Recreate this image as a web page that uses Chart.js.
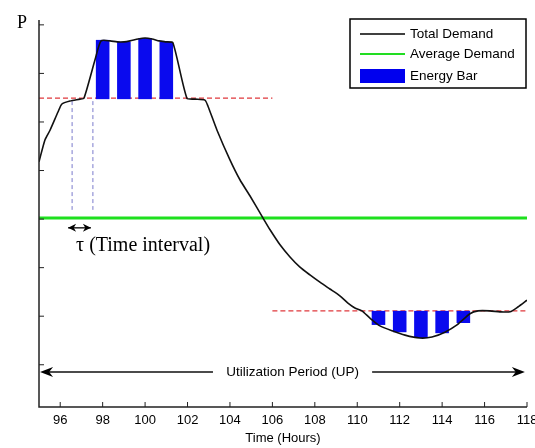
<!DOCTYPE html>
<html>
<head>
<meta charset="utf-8">
<script src="https://cdn.jsdelivr.net/npm/chart.js@4.4.0/dist/chart.umd.min.js"></script>
<style>
  html, body { margin: 0; padding: 0; background: #fff; }
</style>
</head>
<body>
<canvas id="chart" width="535" height="448"></canvas>
<script>
// total demand curve (hours, P)
const demandHours = [95, 95.28, 95.52, 95.9, 96.08, 96.46, 96.93, 97.12, 97.64, 97.92, 98.35, 98.68, 99.01, 99.29, 99.67, 100, 100.33, 100.66, 100.98, 101.31,
  101.97, 102.35, 102.82, 102.96, 103.39, 104, 104.47, 104.94, 105.56, 105.89, 106.36, 106.83, 107.3, 107.77, 108.24, 108.71, 109.18, 109.56, 109.89, 110.22,
  110.6, 111.07, 111.64, 112.25, 112.95, 113.52, 114.13, 114.7, 115.31, 115.69, 116.25, 116.72, 117.2, 117.57, 118];
const demandValues = [5.18, 5.63, 5.83, 6.21, 6.37, 6.43, 6.47, 6.49, 7.28, 7.67, 7.67, 7.65, 7.65, 7.67, 7.71, 7.73, 7.71, 7.67, 7.65, 7.63,
  6.49, 6.47, 6.45, 6.33, 5.83, 5.22, 4.81, 4.48, 4.02, 3.78, 3.47, 3.22, 3.01, 2.85, 2.7, 2.56, 2.42, 2.27, 2.17, 2.11,
  1.96, 1.8, 1.7, 1.61, 1.55, 1.57, 1.67, 1.82, 2.05, 2.11, 2.11, 2.09, 2.09, 2.19, 2.33];

const averageDemand = 4.02;

// energy bars (floating: low..high)
const barHours = [98, 99, 100, 101, 111, 112, 113, 114, 115];
const barLow = [6.47, 6.47, 6.47, 6.47, 1.82, 1.67, 1.55, 1.65, 1.86];
const barHigh = [7.69, 7.65, 7.73, 7.65, 2.11, 2.11, 2.11, 2.11, 2.11];

// dashed thresholds
const peakLevel = 6.49, peakFrom = 95, peakTo = 106;
const valleyLevel = 2.11, valleyFrom = 106, valleyTo = 118;

// time interval markers
const intervalHours = [96.56, 97.54];
const intervalTop = 6.43, intervalBottom = 4.19;
const intervalArrowY = 3.82;

// utilization period arrow
const upLevel = 0.85, upStart = 95.05, upEnd = 117.9, upGapFrom = 103.2, upGapTo = 110.7;

const xTicks = [96, 98, 100, 102, 104, 106, 108, 110, 112, 114, 116, 118];
const yTicks = [1, 2, 3, 4, 5, 6, 7, 8];

const pts = (xs, ys) => xs.map((x, i) => ({ x: x, y: ys[i] }));

function arrowHead(ctx, x, y, dir, len, half) {
  ctx.beginPath();
  ctx.moveTo(x, y);
  ctx.lineTo(x - dir * len, y - half);
  ctx.lineTo(x - dir * len * 0.7, y);
  ctx.lineTo(x - dir * len, y + half);
  ctx.closePath();
  ctx.fill();
}

const decorations = {
  id: 'decorations',
  afterDraw(chart) {
    const ctx = chart.ctx;
    const xs = chart.scales.x, ys = chart.scales.y;
    const a = chart.chartArea;
    ctx.save();
    ctx.fillStyle = '#000';
    ctx.strokeStyle = '#222';
    ctx.lineWidth = 1.5;

    // axes
    ctx.beginPath();
    ctx.moveTo(a.left, a.top);
    ctx.lineTo(a.left, a.bottom);
    ctx.lineTo(a.right, a.bottom);
    ctx.stroke();

    ctx.lineWidth = 1;
    ctx.font = '13px "Liberation Sans", Arial, sans-serif';
    ctx.textAlign = 'center';
    ctx.textBaseline = 'middle';
    xTicks.forEach(t => {
      const x = xs.getPixelForValue(t);
      ctx.beginPath();
      ctx.moveTo(x, a.bottom);
      ctx.lineTo(x, a.bottom - 5);
      ctx.stroke();
      ctx.fillText(String(t), x, a.bottom + 13);
    });
    yTicks.forEach(t => {
      const y = ys.getPixelForValue(t);
      ctx.beginPath();
      ctx.moveTo(a.left, y);
      ctx.lineTo(a.left + 5, y);
      ctx.stroke();
    });
    ctx.fillText('Time (Hours)', (a.left + a.right) / 2, a.bottom + 31);

    ctx.font = '18px "Liberation Serif", "Times New Roman", serif';
    ctx.textAlign = 'left';
    ctx.textBaseline = 'alphabetic';
    ctx.fillText('P', 17, 28);

    // time interval arrow and label
    const ay = ys.getPixelForValue(intervalArrowY);
    const ax1 = xs.getPixelForValue(intervalHours[0]) - 4;
    const ax2 = xs.getPixelForValue(intervalHours[1]) - 2;
    ctx.lineWidth = 1.5;
    ctx.beginPath();
    ctx.moveTo(ax1, ay);
    ctx.lineTo(ax2, ay);
    ctx.stroke();
    arrowHead(ctx, ax1, ay, -1, 8, 4);
    arrowHead(ctx, ax2, ay, 1, 8, 4);
    ctx.font = '20px "Liberation Serif", "Times New Roman", serif';
    ctx.textBaseline = 'middle';
    ctx.fillText('\u03c4 (Time interval)', ax1 + 8, ay + 18);

    // utilization period
    const uy = ys.getPixelForValue(upLevel);
    const u1 = xs.getPixelForValue(upStart), u2 = xs.getPixelForValue(upEnd);
    const g1 = xs.getPixelForValue(upGapFrom), g2 = xs.getPixelForValue(upGapTo);
    ctx.strokeStyle = '#111';
    ctx.lineWidth = 1.5;
    ctx.beginPath();
    ctx.moveTo(u1 + 4, uy); ctx.lineTo(g1, uy);
    ctx.moveTo(g2, uy); ctx.lineTo(u2 - 4, uy);
    ctx.stroke();
    arrowHead(ctx, u1, uy, -1, 13, 5);
    arrowHead(ctx, u2, uy, 1, 13, 5);
    ctx.font = '13.5px "Liberation Sans", Arial, sans-serif';
    ctx.textAlign = 'center';
    ctx.fillText('Utilization Period (UP)', (g1 + g2) / 2, uy);

    // legend
    const lx = 350, ly = 19, lw = 176, lh = 69;
    ctx.fillStyle = '#fff';
    ctx.fillRect(lx, ly, lw, lh);
    ctx.strokeStyle = '#000';
    ctx.lineWidth = 1.5;
    ctx.strokeRect(lx, ly, lw, lh);
    ctx.textAlign = 'left';
    ctx.fillStyle = '#000';
    ctx.font = '13.5px "Liberation Sans", Arial, sans-serif';
    ctx.lineWidth = 1.5;
    ctx.strokeStyle = '#000';
    ctx.beginPath(); ctx.moveTo(360, 34); ctx.lineTo(405, 34); ctx.stroke();
    ctx.fillText('Total Demand', 410, 34);
    ctx.strokeStyle = '#22dd22';
    ctx.lineWidth = 2;
    ctx.beginPath(); ctx.moveTo(360, 54); ctx.lineTo(405, 54); ctx.stroke();
    ctx.fillText('Average Demand', 410, 54);
    ctx.fillStyle = '#0000ee';
    ctx.fillRect(360, 69, 45, 14);
    ctx.fillStyle = '#000';
    ctx.fillText('Energy Bar', 410, 76);
    ctx.restore();
  }
};

new Chart(document.getElementById('chart'), {
  data: {
    datasets: [
      {
        type: 'line', label: 'Total Demand', data: pts(demandHours, demandValues),
        borderColor: '#111', borderWidth: 1.6, pointRadius: 0, tension: 0.2, order: 0
      },
      {
        type: 'bar', label: 'Energy Bar', data: barHours.map((h, i) => ({ x: h, y: [barLow[i], barHigh[i]] })),
        backgroundColor: '#0a0aee', borderWidth: 0, barPercentage: 0.64, categoryPercentage: 1, grouped: false, order: 1
      },
      {
        type: 'line', label: 'Average Demand', data: pts([95, 118], [averageDemand, averageDemand]),
        borderColor: '#1ee01e', borderWidth: 3, pointRadius: 0, order: 2
      },
      {
        type: 'line', label: 'peak', data: pts([peakFrom, peakTo], [peakLevel, peakLevel]),
        borderColor: '#e0383c', borderWidth: 1.2, borderDash: [5, 3], pointRadius: 0, order: 3
      },
      {
        type: 'line', label: 'valley', data: pts([valleyFrom, valleyTo], [valleyLevel, valleyLevel]),
        borderColor: '#e0383c', borderWidth: 1.2, borderDash: [5, 3], pointRadius: 0, order: 3
      },
      {
        type: 'line', label: 'tau1', data: pts([intervalHours[0], intervalHours[0]], [intervalTop, intervalBottom]),
        borderColor: '#7a7acc', borderWidth: 1, borderDash: [4, 3], pointRadius: 0, order: 3
      },
      {
        type: 'line', label: 'tau2', data: pts([intervalHours[1], intervalHours[1]], [intervalTop, intervalBottom]),
        borderColor: '#7a7acc', borderWidth: 1, borderDash: [4, 3], pointRadius: 0, order: 3
      }
    ]
  },
  options: {
    responsive: false,
    animation: false,
    devicePixelRatio: 1,
    layout: { padding: { left: 39, right: 8, top: 20, bottom: 41 } },
    scales: {
      x: { type: 'linear', min: 95, max: 118, offset: false, display: false, ticks: { stepSize: 1 } },
      y: { type: 'linear', min: 0.13, max: 8.1, display: false }
    },
    plugins: { legend: { display: false }, tooltip: { enabled: false } }
  },
  plugins: [decorations]
});
</script>
</body>
</html>
